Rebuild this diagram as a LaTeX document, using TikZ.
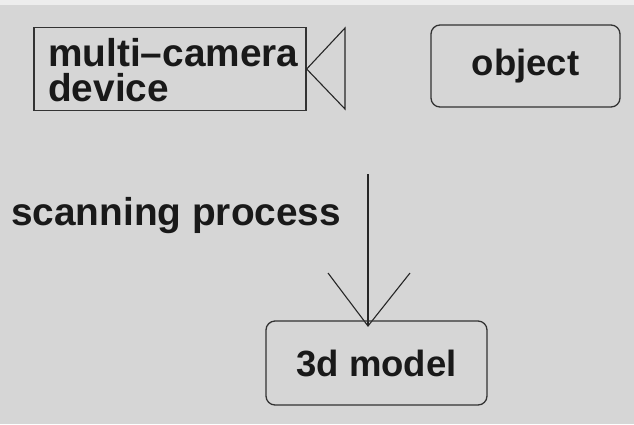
\documentclass[tikz,border=0pt]{standalone}
\usepackage{fontspec}
\setmainfont{Liberation Sans}
\begin{document}
\begin{tikzpicture}[x=1pt,y=-1pt,
  every node/.style={font=\bfseries\fontsize{36.5}{35}\selectfont, text=black!90},
  wide/.style={font=\bfseries\fontsize{38.8}{35}\selectfont},
  plainbox/.style={draw=black!80, line width=1.3pt},
  roundbox/.style={draw=black!80, line width=1.3pt, rounded corners=9pt},
  link/.style={draw=black!85, line width=1.1pt}]
  % page and paper tone
  \useasboundingbox (0,0) rectangle (634,424);
  \fill[black!16] (0,0) rectangle (634,424);
  \fill[black!7] (0,0) rectangle (634,5);

  % camera body and lens
  \node[plainbox, minimum width=272pt, minimum height=83pt, inner sep=0pt] (cam) at (170,69) {};
  \node[wide, align=left, anchor=west, inner sep=0pt] (camtext) at (48,70) {multi–camera\\device};
  \coordinate (lenstop) at (345,28);
  \coordinate (lensbot) at (345,109);
  \draw[link] (lenstop) -- (cam.east) -- (lensbot) -- cycle;

  % object
  \node[roundbox, minimum width=189pt, minimum height=82pt, inner sep=0pt] (obj) at (525.5,66) {object};

  % scanning process arrow
  \node[wide, anchor=west, inner sep=0pt] (scan) at (11,216) {scanning process};
  \coordinate (arrtop) at (368,174);
  \coordinate (arrtip) at (368,326);
  \coordinate (wingl) at (328,273);
  \coordinate (wingr) at (410,273);
  \draw[link] (arrtop) -- (arrtip);
  \draw[link] (wingl) -- (arrtip) -- (wingr);

  % result
  \node[roundbox, minimum width=221pt, minimum height=84pt, inner sep=0pt] (model) at (376.5,363) {3d model};
\end{tikzpicture}
\end{document}
